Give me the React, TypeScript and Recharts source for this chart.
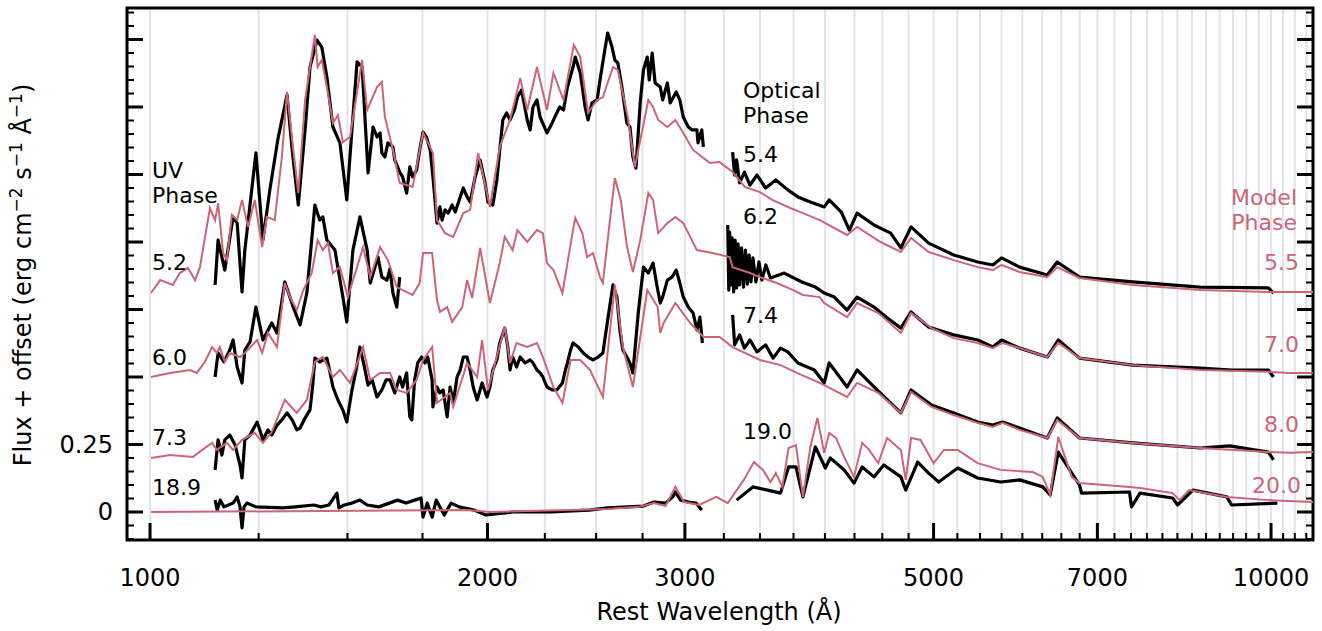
import React from 'react';
import { LineChart, Line, XAxis, YAxis, CartesianGrid, ReferenceArea } from 'recharts';

const W = 1322;
const H = 631;
const PINK = '#CC6677';
const FONT = 'DejaVu Sans';

const X_MIN = 953.8;
const X_MAX = 10900;
const Y_MIN = -0.1037;
const Y_MAX = 1.8667;

const X_TICKS = [1000, 1250, 1500, 1750, 2000, 2250, 2500, 2750, 3000, 3250, 3500, 3750, 4000, 4250, 4500, 4750, 5000, 5250, 5500, 5750, 6000, 6250, 6500, 6750, 7000, 7250, 7500, 7750, 8000, 8250, 8500, 8750, 9000, 9250, 9500, 9750, 10000, 10250, 10500, 10750];
const X_MAJOR = [1000, 2000, 3000, 5000, 7000, 10000];
const Y_TICKS = [-0.1, -0.05, 0, 0.05, 0.1, 0.15, 0.2, 0.25, 0.3, 0.35, 0.4, 0.45, 0.5, 0.55, 0.6, 0.65, 0.7, 0.75, 0.8, 0.85, 0.9, 0.95, 1, 1.05, 1.1, 1.15, 1.2, 1.25, 1.3, 1.35, 1.4, 1.45, 1.5, 1.55, 1.6, 1.65, 1.7, 1.75, 1.8, 1.85];
const Y_MAJOR = [0, 0.25, 0.5, 0.75, 1, 1.25, 1.5, 1.75];
const Y_LABELED = [0, 0.25];

// vertical offsets of the four rows (top to bottom)
const OFFSETS = [0.8, 0.5, 0.2, 0];

const UV_PHASES = ['5.2', '6.0', '7.3', '18.9'];
const OPT_PHASES = ['5.4', '6.2', '7.4', '19.0'];
const MODEL_PHASES = ['5.5', '7.0', '8.0', '20.0'];

// [wavelength (Å), flux]
const MODEL_55 = [
  [1002, 0.011], [1021, 0.059], [1048, 0.041], [1063, 0.085], [1081, 0.104], [1097, 0.059], [1108, 0.107], [1131, 0.326], [1143, 0.281], [1150, 0.344], [1162, 0.159], [1171, 0.133], [1183, 0.3], [1196, 0.281], [1208, 0.356], [1223, 0.256], [1240, 0.356], [1259, 0.181], [1271, 0.293], [1292, 0.281], [1311, 0.515], [1325, 0.756], [1339, 0.578], [1356, 0.381], [1375, 0.726], [1403, 0.967], [1411, 0.848], [1423, 0.874], [1438, 0.774], [1456, 0.641], [1471, 0.67], [1486, 0.57], [1508, 0.589], [1546, 0.874], [1562, 0.689], [1594, 0.774], [1610, 0.793], [1620, 0.663], [1647, 0.541], [1670, 0.419], [1715, 0.404], [1752, 0.604], [1788, 0.53], [1803, 0.281], [1833, 0.233], [1864, 0.219], [1903, 0.307], [1930, 0.319], [1962, 0.53], [2010, 0.33], [2051, 0.552], [2095, 0.652], [2139, 0.807], [2170, 0.689], [2214, 0.848], [2260, 0.689], [2290, 0.826], [2338, 0.726], [2388, 0.93], [2420, 0.885], [2459, 0.678], [2505, 0.726], [2535, 0.737], [2588, 0.848], [2614, 0.837], [2668, 0.663], [2707, 0.478], [2783, 0.726], [2810, 0.7], [2840, 0.652], [2894, 0.626], [2942, 0.652], [2990, 0.604], [3051, 0.541], [3157, 0.493], [3222, 0.496], [3309, 0.459], [3393, 0.404], [3500, 0.385], [3589, 0.356], [3725, 0.326], [3823, 0.307], [3958, 0.281], [4186, 0.226], [4273, 0.256], [4484, 0.2], [4675, 0.163], [4774, 0.215], [4949, 0.163], [5211, 0.133], [5474, 0.107], [5647, 0.096], [5749, 0.115], [5966, 0.089], [6315, 0.07], [6446, 0.107], [6747, 0.067], [7527, 0.041], [8656, 0.022], [9946, 0.015], [10900, 0.015],
];
const OBS_UV_52 = [
  [1143, 0.041], [1150, 0.207], [1166, 0.096], [1186, 0.293], [1196, 0.27], [1208, 0.015], [1215, 0.17], [1243, 0.53], [1261, 0.207], [1279, 0.393], [1300, 0.578], [1325, 0.744], [1339, 0.541], [1356, 0.337], [1375, 0.615], [1389, 0.848], [1409, 0.948], [1423, 0.922], [1438, 0.811], [1456, 0.626], [1477, 0.567], [1498, 0.356], [1514, 0.615], [1530, 0.867], [1546, 0.848], [1565, 0.456], [1581, 0.626], [1594, 0.589], [1604, 0.604], [1610, 0.53], [1620, 0.515], [1630, 0.567], [1647, 0.552], [1653, 0.504], [1663, 0.478], [1670, 0.459], [1680, 0.441], [1694, 0.381], [1705, 0.478], [1715, 0.441], [1729, 0.467], [1740, 0.541], [1752, 0.607], [1764, 0.589], [1778, 0.541], [1788, 0.441], [1803, 0.27], [1814, 0.33], [1822, 0.281], [1833, 0.319], [1845, 0.307], [1860, 0.337], [1872, 0.311], [1891, 0.367], [1903, 0.4], [1918, 0.367], [1930, 0.348], [1950, 0.441], [1970, 0.504], [1990, 0.419], [2002, 0.348], [2022, 0.337], [2039, 0.43], [2051, 0.541], [2064, 0.652], [2080, 0.678], [2095, 0.652], [2114, 0.689], [2127, 0.737], [2145, 0.763], [2170, 0.652], [2183, 0.615], [2196, 0.7], [2214, 0.726], [2228, 0.663], [2260, 0.604], [2284, 0.641], [2306, 0.678], [2320, 0.7], [2338, 0.689], [2357, 0.774], [2384, 0.848], [2395, 0.885], [2420, 0.826], [2444, 0.7], [2459, 0.652], [2479, 0.715], [2505, 0.726], [2520, 0.8], [2545, 0.911], [2560, 0.974], [2583, 0.922], [2598, 0.874], [2614, 0.863], [2636, 0.774], [2663, 0.641], [2680, 0.626], [2696, 0.515], [2713, 0.474], [2737, 0.715], [2755, 0.837], [2777, 0.885], [2788, 0.8], [2805, 0.9], [2822, 0.789], [2852, 0.774], [2866, 0.726], [2894, 0.789], [2911, 0.715], [2947, 0.756], [2969, 0.726], [2990, 0.663], [3021, 0.626], [3045, 0.615], [3075, 0.615], [3082, 0.567], [3106, 0.615], [3116, 0.552],
];
const OBS_OPT_54 = [
  [3309, 0.533], [3323, 0.448], [3336, 0.504], [3357, 0.419], [3390, 0.459], [3429, 0.411], [3479, 0.448], [3541, 0.4], [3616, 0.43], [3706, 0.393], [3784, 0.367], [3882, 0.348], [3994, 0.33], [4035, 0.356], [4137, 0.311], [4206, 0.244], [4273, 0.307], [4424, 0.263], [4578, 0.233], [4675, 0.178], [4774, 0.256], [4949, 0.196], [5211, 0.152], [5474, 0.126], [5647, 0.115], [5749, 0.141], [5966, 0.107], [6315, 0.078], [6446, 0.126], [6747, 0.07], [7527, 0.052], [8644, 0.033], [9946, 0.03], [10050, 0.011],
];

const MODEL_70 = [
  [1002, 0], [1042, 0.015], [1086, 0.026], [1101, 0.015], [1119, 0.056], [1136, 0.111], [1147, 0.089], [1154, 0.111], [1166, 0.056], [1178, 0.089], [1203, 0.074], [1215, 0.089], [1246, 0.137], [1259, 0.089], [1274, 0.163], [1298, 0.111], [1319, 0.348], [1333, 0.296], [1352, 0.248], [1370, 0.322], [1394, 0.385], [1411, 0.507], [1426, 0.47], [1441, 0.496], [1456, 0.385], [1477, 0.407], [1501, 0.296], [1530, 0.407], [1549, 0.481], [1572, 0.37], [1604, 0.481], [1630, 0.433], [1660, 0.333], [1680, 0.322], [1715, 0.304], [1740, 0.348], [1752, 0.459], [1785, 0.459], [1803, 0.285], [1814, 0.241], [1841, 0.259], [1860, 0.204], [1899, 0.259], [1918, 0.359], [1938, 0.293], [1970, 0.478], [2010, 0.274], [2051, 0.422], [2072, 0.519], [2106, 0.47], [2127, 0.544], [2170, 0.5], [2214, 0.544], [2241, 0.533], [2260, 0.422], [2290, 0.396], [2333, 0.311], [2357, 0.422], [2384, 0.544], [2395, 0.589], [2430, 0.533], [2454, 0.444], [2484, 0.459], [2520, 0.37], [2535, 0.348], [2566, 0.544], [2598, 0.737], [2630, 0.656], [2663, 0.485], [2696, 0.389], [2737, 0.507], [2783, 0.681], [2810, 0.656], [2840, 0.533], [2894, 0.57], [2942, 0.593], [2990, 0.57], [3075, 0.47], [3176, 0.459], [3289, 0.444], [3309, 0.407], [3429, 0.385], [3500, 0.37], [3623, 0.348], [3747, 0.322], [3823, 0.304], [3958, 0.296], [3994, 0.274], [4186, 0.222], [4273, 0.274], [4463, 0.237], [4675, 0.163], [4774, 0.237], [4980, 0.181], [5211, 0.144], [5474, 0.126], [5647, 0.107], [5762, 0.126], [5966, 0.107], [6315, 0.074], [6460, 0.126], [6747, 0.07], [7527, 0.044], [8644, 0.026], [9946, 0.019], [10400, 0.015], [10900, 0.015],
];
const OBS_UV_60 = [
  [1143, 0], [1150, 0.089], [1164, 0.056], [1178, 0.1], [1186, 0.137], [1196, 0.037], [1208, -0.022], [1215, 0.1], [1228, 0.13], [1243, 0.259], [1261, 0.137], [1284, 0.2], [1298, 0.163], [1319, 0.352], [1342, 0.259], [1361, 0.193], [1380, 0.311], [1403, 0.637], [1417, 0.581], [1426, 0.593], [1438, 0.507], [1462, 0.47], [1486, 0.296], [1498, 0.204], [1517, 0.47], [1539, 0.593], [1562, 0.47], [1572, 0.348], [1597, 0.444], [1610, 0.37], [1627, 0.359], [1637, 0.4], [1647, 0.311], [1660, 0.259], [1670, 0.37],
];
const OBS_OPT_62 = [
  [3276, 0.563], [3283, 0.322], [3289, 0.537], [3296, 0.341], [3306, 0.515], [3316, 0.315], [3326, 0.507], [3336, 0.33], [3346, 0.493], [3357, 0.341], [3370, 0.478], [3384, 0.333], [3397, 0.47], [3411, 0.344], [3423, 0.452], [3436, 0.352], [3450, 0.441], [3471, 0.352], [3493, 0.426], [3514, 0.359], [3543, 0.415], [3576, 0.367], [3679, 0.385], [3815, 0.352], [3922, 0.333], [3994, 0.311], [4078, 0.296], [4186, 0.248], [4273, 0.296], [4424, 0.259], [4535, 0.222], [4675, 0.181], [4774, 0.241], [4949, 0.185], [5211, 0.156], [5474, 0.137], [5647, 0.111], [5749, 0.137], [5966, 0.107], [6315, 0.074], [6460, 0.137], [6747, 0.07], [7527, 0.044], [8644, 0.033], [9219, 0.026], [9946, 0.026], [10050, 0],
];

const MODEL_80 = [
  [1002, 0], [1042, 0.011], [1092, 0.004], [1113, 0.03], [1136, 0.056], [1147, 0.03], [1171, 0.056], [1186, 0.03], [1208, 0.067], [1240, 0.093], [1261, 0.056], [1284, 0.096], [1319, 0.215], [1352, 0.167], [1380, 0.215], [1403, 0.356], [1426, 0.374], [1456, 0.3], [1477, 0.326], [1508, 0.278], [1549, 0.411], [1572, 0.289], [1604, 0.315], [1637, 0.315], [1660, 0.252], [1694, 0.241], [1729, 0.289], [1752, 0.363], [1785, 0.411], [1803, 0.204], [1852, 0.241], [1864, 0.189], [1918, 0.352], [1958, 0.3], [1978, 0.437], [2002, 0.252], [2072, 0.485], [2095, 0.352], [2123, 0.426], [2170, 0.411], [2214, 0.426], [2241, 0.374], [2290, 0.263], [2333, 0.204], [2372, 0.363], [2420, 0.363], [2469, 0.326], [2535, 0.226], [2598, 0.641], [2641, 0.411], [2696, 0.263], [2777, 0.622], [2837, 0.559], [2852, 0.463], [2872, 0.5], [2942, 0.574], [3033, 0.5], [3116, 0.448], [3222, 0.448], [3309, 0.411], [3500, 0.363], [3651, 0.344], [3815, 0.307], [3958, 0.278], [4186, 0.226], [4273, 0.278], [4463, 0.241], [4675, 0.167], [4774, 0.244], [4980, 0.189], [5211, 0.159], [5474, 0.13], [5647, 0.115], [5762, 0.13], [5966, 0.104], [6315, 0.074], [6446, 0.141], [6747, 0.074], [7527, 0.056], [8644, 0.037], [9946, 0.022], [10400, 0.019], [10900, 0.022],
];
const OBS_UV_73 = [
  [1143, -0.044], [1150, 0.067], [1159, 0.011], [1166, 0.067], [1178, 0.085], [1191, 0.048], [1203, -0.026], [1208, -0.074], [1215, 0.067], [1228, 0.085], [1246, 0.133], [1253, 0.104], [1261, 0.067], [1274, 0.104], [1284, 0.085], [1298, 0.122], [1311, 0.141], [1325, 0.167], [1339, 0.141], [1352, 0.104], [1361, 0.111], [1375, 0.148], [1389, 0.178], [1397, 0.27], [1403, 0.37], [1417, 0.356], [1438, 0.37], [1447, 0.319], [1456, 0.263], [1471, 0.215], [1486, 0.178], [1498, 0.133], [1514, 0.252], [1527, 0.326], [1539, 0.411], [1552, 0.344], [1565, 0.27], [1578, 0.289], [1594, 0.226], [1610, 0.252], [1624, 0.289], [1637, 0.289], [1653, 0.241], [1670, 0.3], [1680, 0.263], [1694, 0.315], [1705, 0.152], [1712, 0.141], [1722, 0.289], [1733, 0.352], [1747, 0.374], [1759, 0.352], [1769, 0.374], [1785, 0.289], [1788, 0.189], [1803, 0.263], [1814, 0.241], [1826, 0.252], [1841, 0.152], [1852, 0.263], [1864, 0.204], [1879, 0.3], [1891, 0.326], [1903, 0.374], [1918, 0.374], [1930, 0.326], [1942, 0.263], [1958, 0.215], [1978, 0.278], [1998, 0.226], [2010, 0.263], [2022, 0.326], [2039, 0.363], [2051, 0.426], [2072, 0.481], [2085, 0.411], [2095, 0.326], [2106, 0.374], [2123, 0.337], [2139, 0.374], [2161, 0.352], [2183, 0.363], [2196, 0.352], [2214, 0.326], [2228, 0.315], [2241, 0.3], [2260, 0.263], [2284, 0.252], [2306, 0.252], [2333, 0.278], [2347, 0.326], [2357, 0.352], [2372, 0.4], [2384, 0.426], [2410, 0.411], [2435, 0.389], [2459, 0.374], [2484, 0.363], [2510, 0.374], [2535, 0.389], [2560, 0.511], [2588, 0.641], [2609, 0.596], [2625, 0.474], [2641, 0.4], [2663, 0.374], [2680, 0.352], [2696, 0.315], [2726, 0.537], [2755, 0.707], [2783, 0.685], [2810, 0.722], [2834, 0.633], [2852, 0.574], [2866, 0.596], [2894, 0.659], [2922, 0.67], [2947, 0.696], [2969, 0.648], [2990, 0.596], [3021, 0.559], [3051, 0.537], [3075, 0.474], [3094, 0.522], [3110, 0.426],
];
const OBS_OPT_74 = [
  [3309, 0.53], [3323, 0.419], [3357, 0.456], [3390, 0.407], [3429, 0.437], [3479, 0.393], [3541, 0.419], [3596, 0.37], [3651, 0.407], [3706, 0.393], [3784, 0.352], [3914, 0.326], [3994, 0.278], [4035, 0.352], [4186, 0.263], [4273, 0.326], [4424, 0.263], [4675, 0.167], [4774, 0.252], [4980, 0.196], [5211, 0.167], [5474, 0.133], [5647, 0.122], [5762, 0.133], [5966, 0.111], [6315, 0.074], [6446, 0.148], [6747, 0.074], [7527, 0.056], [8644, 0.037], [9182, 0.045], [9946, 0.022], [10050, -0.007],
];

const MODEL_200 = [
  [1002, 0], [1918, 0.007], [2010, 0], [2560, 0.011], [2730, 0.019], [2816, 0.033], [2883, 0.022], [2942, 0.093], [2995, 0.037], [3088, 0.026], [3200, 0.056], [3276, 0.033], [3386, 0.119], [3457, 0.185], [3522, 0.156], [3576, 0.111], [3616, 0.144], [3665, 0.093], [3712, 0.237], [3769, 0.248], [3823, 0.056], [3882, 0.241], [3938, 0.348], [3994, 0.219], [4035, 0.293], [4092, 0.274], [4161, 0.204], [4246, 0.13], [4318, 0.256], [4380, 0.23], [4463, 0.181], [4545, 0.274], [4675, 0.23], [4722, 0.119], [4774, 0.274], [4868, 0.267], [5000, 0.181], [5107, 0.23], [5254, 0.23], [5474, 0.181], [5738, 0.156], [6131, 0.148], [6257, 0.13], [6353, 0.063], [6460, 0.278], [6640, 0.13], [6747, 0.107], [7477, 0.093], [7640, 0.089], [8170, 0.07], [8287, 0.044], [8450, 0.081], [9132, 0.056], [9946, 0.044], [10900, 0.037],
];
const OBS_UV_189 = [
  [1143, 0.044], [1148, 0.007], [1155, 0.044], [1164, 0.019], [1186, 0.033], [1196, 0.056], [1203, 0.019], [1208, -0.059], [1213, 0.019], [1220, 0.033], [1243, 0.019], [1314, 0.015], [1347, 0.019], [1400, 0.026], [1420, 0.019], [1444, 0.026], [1468, 0.07], [1474, 0.015], [1490, 0.026], [1514, 0.033], [1539, 0.044], [1562, 0.026], [1600, 0.019], [1663, 0.044], [1692, 0.033], [1722, 0.044], [1745, 0.052], [1752, -0.019], [1767, 0.033], [1785, -0.019], [1800, 0.044], [1830, -0.011], [1856, 0.033], [1887, 0.019], [1946, 0.007], [1993, -0.011], [2107, 0], [2279, 0], [2464, 0.007], [2560, 0.015], [2668, 0.019], [2755, 0.022], [2816, 0.037], [2883, 0.033], [2926, 0.056], [2942, 0.074], [2974, 0.044], [3021, 0.037], [3069, 0.033], [3106, 0.007],
];
const OBS_OPT_190 = [
  [3336, 0.044], [3450, 0.093], [3555, 0.081], [3651, 0.07], [3712, 0.167], [3769, 0.167], [3823, 0.056], [3922, 0.241], [4003, 0.163], [4044, 0.2], [4161, 0.156], [4246, 0.107], [4318, 0.167], [4424, 0.13], [4514, 0.174], [4675, 0.13], [4722, 0.081], [4839, 0.185], [4949, 0.144], [5053, 0.111], [5254, 0.163], [5474, 0.126], [5738, 0.111], [5966, 0.119], [6257, 0.093], [6353, 0.063], [6460, 0.222], [6747, 0.1], [6776, 0.07], [7477, 0.074], [7508, 0.019], [7640, 0.07], [8170, 0.052], [8253, 0.026], [8517, 0.081], [9132, 0.056], [9219, 0.026], [10130, 0.033],
];

const ROWS = [
  { model: MODEL_55, uv: OBS_UV_52, opt: OBS_OPT_54 },
  { model: MODEL_70, uv: OBS_UV_60, opt: OBS_OPT_62 },
  { model: MODEL_80, uv: OBS_UV_73, opt: OBS_OPT_74 },
  { model: MODEL_200, uv: OBS_UV_189, opt: OBS_OPT_190 },
];

const pts = (arr: number[][], off: number) => arr.map(([w, f]) => ({ w, v: f + off }));
const near = (list: number[], v: number) => list.some((m) => Math.abs(m - v) < 1e-6);

const XTick = (props: any) => {
  const { x, y, payload } = props;
  const v = payload.value;
  const major = near(X_MAJOR, v);
  return (
    <g>
      <line x1={x} x2={x} y1={y} y2={y - (major ? 17 : 7)} stroke="#000" strokeWidth={major ? 3 : 2} />
      {major && (
        <text x={x} y={y + 46} textAnchor="middle" fontSize={24} fontFamily={FONT} fill="#000">{String(v)}</text>
      )}
    </g>
  );
};

const YTickL = (props: any) => {
  const { x, y, payload } = props;
  const v = payload.value;
  const major = near(Y_MAJOR, v);
  const labeled = near(Y_LABELED, v);
  return (
    <g>
      <line x1={x} x2={x + (major ? 16 : 7)} y1={y} y2={y} stroke="#000" strokeWidth={major ? 3 : 2} />
      {labeled && (
        <text x={x - 14} y={y + 8} textAnchor="end" fontSize={24} fontFamily={FONT} fill="#000">{v === 0 ? '0' : String(v)}</text>
      )}
    </g>
  );
};

const YTickR = (props: any) => {
  const { x, y, payload } = props;
  const major = near(Y_MAJOR, payload.value);
  return <line x1={x} x2={x - (major ? 16 : 7)} y1={y} y2={y} stroke="#000" strokeWidth={major ? 3 : 2} />;
};

const Label = ({ x, y, children, color = '#000', anchor = 'start' }: any) => (
  <text x={x} y={y} fontSize={22} fontFamily={FONT} fill={color} textAnchor={anchor}>{children}</text>
);

export default function App() {
  return (
    <div style={{ position: 'absolute', left: 0, top: 0, width: W, height: H, background: '#fff' }}>
      <LineChart width={W} height={H} margin={{ top: 8, right: 8, bottom: 0, left: 0 }}>
        <CartesianGrid xAxisId="x" yAxisId="l" horizontal={false} vertical={true} stroke="#e4e4e4" strokeWidth={2} />
        <XAxis xAxisId="x" dataKey="w" type="number" scale="log" domain={[X_MIN, X_MAX]} allowDataOverflow
          ticks={X_TICKS} interval={0} tick={<XTick />} tickLine={false} axisLine={false} tickSize={0} tickMargin={0} height={91} />
        <YAxis yAxisId="l" type="number" domain={[Y_MIN, Y_MAX]} allowDataOverflow ticks={Y_TICKS} interval={0}
          tick={<YTickL />} tickLine={false} axisLine={false} tickSize={0} tickMargin={0} width={127} />
        <YAxis yAxisId="r" orientation="right" type="number" domain={[Y_MIN, Y_MAX]} allowDataOverflow ticks={Y_TICKS} interval={0}
          tick={<YTickR />} tickLine={false} axisLine={false} tickSize={0} tickMargin={0} width={1} />
        {ROWS.map((r, i) => (
          <Line key={'uv' + i} xAxisId="x" yAxisId="l" data={pts(r.uv, OFFSETS[i])} dataKey="v" type="linear" stroke="#000" strokeWidth={3.2} strokeLinejoin="round" dot={false} isAnimationActive={false} />
        ))}
        {ROWS.map((r, i) => (
          <Line key={'op' + i} xAxisId="x" yAxisId="l" data={pts(r.opt, OFFSETS[i])} dataKey="v" type="linear" stroke="#000" strokeWidth={3.2} strokeLinejoin="round" dot={false} isAnimationActive={false} />
        ))}
        {ROWS.map((r, i) => (
          <Line key={'m' + i} xAxisId="x" yAxisId="l" data={pts(r.model, OFFSETS[i])} dataKey="v" type="linear" stroke={PINK} strokeWidth={2} dot={false} isAnimationActive={false} />
        ))}
        <ReferenceArea xAxisId="x" yAxisId="l" x1={X_MIN} x2={X_MAX} y1={Y_MIN} y2={Y_MAX} fill="none" stroke="#000" strokeWidth={3} ifOverflow="visible" />
      </LineChart>
      <svg width={W} height={H} style={{ position: 'absolute', left: 0, top: 0, pointerEvents: 'none' }}>
        <Label x={152} y={178}>UV</Label>
        <Label x={152} y={203}>Phase</Label>
        <Label x={152} y={270}>{UV_PHASES[0]}</Label>
        <Label x={152} y={365}>{UV_PHASES[1]}</Label>
        <Label x={152} y={445}>{UV_PHASES[2]}</Label>
        <Label x={152} y={495}>{UV_PHASES[3]}</Label>
        <Label x={743} y={98}>Optical</Label>
        <Label x={743} y={123}>Phase</Label>
        <Label x={743} y={162}>{OPT_PHASES[0]}</Label>
        <Label x={743} y={224}>{OPT_PHASES[1]}</Label>
        <Label x={743} y={323}>{OPT_PHASES[2]}</Label>
        <Label x={743} y={439}>{OPT_PHASES[3]}</Label>
        <Label x={1297} y={205} color={PINK} anchor="end">Model</Label>
        <Label x={1297} y={230} color={PINK} anchor="end">Phase</Label>
        <Label x={1299} y={270} color={PINK} anchor="end">{MODEL_PHASES[0]}</Label>
        <Label x={1299} y={352} color={PINK} anchor="end">{MODEL_PHASES[1]}</Label>
        <Label x={1299} y={432} color={PINK} anchor="end">{MODEL_PHASES[2]}</Label>
        <Label x={1301} y={493} color={PINK} anchor="end">{MODEL_PHASES[3]}</Label>
        <text x={719} y={620} textAnchor="middle" fontSize={24} fontFamily={FONT} fill="#000">Rest Wavelength (Å)</text>
        <text transform="translate(31,275) rotate(-90)" textAnchor="middle" fontSize={24} fontFamily={FONT} fill="#000">
          Flux + offset (erg cm<tspan dy={-9} fontSize={17}>−2</tspan><tspan dy={9}> s</tspan><tspan dy={-9} fontSize={17}>−1</tspan><tspan dy={9}> Å</tspan><tspan dy={-9} fontSize={17}>−1</tspan><tspan dy={9}>)</tspan>
        </text>
      </svg>
    </div>
  );
}
